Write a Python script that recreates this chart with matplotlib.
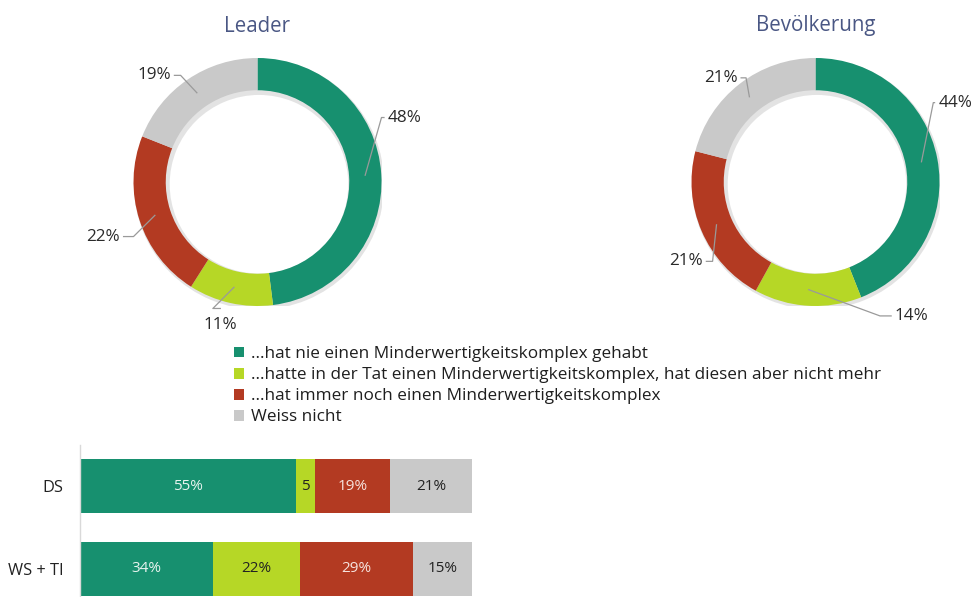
import numpy as np
import matplotlib.pyplot as plt
from matplotlib.patches import Patch, Wedge

plt.rcParams['font.family'] = ['Open Sans', 'DejaVu Sans']

# answer categories and colours
categories = ["...hat nie einen Minderwertigkeitskomplex gehabt",
              "...hatte in der Tat einen Minderwertigkeitskomplex, hat diesen aber nicht mehr",
              "...hat immer noch einen Minderwertigkeitskomplex",
              "Weiss nicht"]
colors = ["#17906f", "#b6d726", "#b33a22", "#c9c9c9"]
text_colors = ["#e8f4ef", "#222222", "#f6e3de", "#222222"]

# donut data
donut_titles = ["Leader", "Bevölkerung"]
leader_vals = [48, 11, 22, 19]
bevoelkerung_vals = [44, 14, 21, 21]

# bar data
bar_groups = ["DS", "WS + TI"]
ds_vals = [55, 5, 19, 21]
ws_vals = [34, 22, 29, 15]
bar_label_fmt = [["{}%", "{}", "{}%", "{}%"], ["{}%", "{}%", "{}%", "{}%"]]

W, H = 973, 597
fig = plt.figure(figsize=(W / 100, H / 100), dpi=100)


def px_axes(cx, cy, r):
    # square axes centred on pixel position (cx, cy) with radius r (pixels)
    return fig.add_axes([(cx - r) / W, (H - cy - r) / H, 2 * r / W, 2 * r / H])


# label positions (in units of donut radius) and text alignment
label_pos = [
    [(1.05, 0.52, 'left'), (-0.30, -1.15, 'center'), (-1.11, -0.44, 'right'), (-0.70, 0.86, 'right')],
    [(0.99, 0.64, 'left'), (0.64, -1.08, 'left'), (-0.91, -0.64, 'right'), (-0.63, 0.84, 'right')],
]
elbow = [
    [(1.0, 0.52), (-0.36, -1.02), (-1.0, -0.44), (-0.62, 0.86)],
    [(0.95, 0.64), (0.52, -1.08), (-0.83, -0.64), (-0.56, 0.84)],
]

for k, (vals, cx) in enumerate([(leader_vals, 257.5), (bevoelkerung_vals, 815.5)]):
    ax = px_axes(cx, 182, 124)
    # soft shadow under the ring
    ax.add_patch(Wedge((0.012, -0.018), 1.01, 0, 360, width=0.29,
                       facecolor="#b0b0b0", alpha=0.35, edgecolor="none"))
    wedges, _ = ax.pie(vals, colors=colors, startangle=90, counterclock=False,
                       radius=1.0, wedgeprops=dict(width=0.26, edgecolor="none"))
    for w, v, (tx, ty, ha), (ex, ey) in zip(wedges, vals, label_pos[k], elbow[k]):
        ang = np.deg2rad((w.theta1 + w.theta2) / 2)
        sx, sy = 0.87 * np.cos(ang), 0.87 * np.sin(ang)
        ax.plot([sx, ex, tx - (0.03 if ha == 'left' else -0.03 if ha == 'right' else 0)],
                [sy, ey, ty if ha != 'center' else ey],
                color="#9a9a9a", lw=0.9, clip_on=False)
        ax.text(tx, ty, f"{v}%", ha=ha, va='center', fontsize=12.3,
                color="#2a2a2a", clip_on=False)
    ax.set_xlim(-1, 1)
    ax.set_ylim(-1, 1)
    ax.set_aspect('equal')
    ax.axis('off')
    fig.text(cx / W, 1 - 26 / H, donut_titles[k], ha='center', va='center',
             fontsize=14.8, color="#4a5784")

# legend
handles = [Patch(facecolor=c, edgecolor='none') for c in colors]
fig.legend(handles, categories, loc='upper left', bbox_to_anchor=(234 / W, 1 - 346 / H),
           frameon=False, fontsize=12.3, handlelength=0.6, handleheight=0.6,
           handletextpad=0.4, labelspacing=0.3, borderpad=0, borderaxespad=0,
           labelcolor="#1e1e1e")

# stacked horizontal bars
bax = fig.add_axes([80 / W, 0, 392 / W, 152 / H])
y = np.arange(len(bar_groups))
for row, vals in enumerate([ds_vals, ws_vals]):
    left = 0
    for i, v in enumerate(vals):
        bax.barh(y[row], v, left=left, height=0.65, color=colors[i], edgecolor='none')
        bax.text(left + v / 2, y[row], bar_label_fmt[row][i].format(v), ha='center',
                 va='center', fontsize=11, color=text_colors[i])
        left += v
bax.set_xlim(0, 100)
bax.set_ylim(1 + 28 / 83, -41 / 83)
bax.set_yticks(y)
bax.set_yticklabels(bar_groups, fontsize=11.8, color="#222222")
bax.tick_params(axis='y', length=0, pad=12)
bax.set_xticks([])
for s in ['top', 'right', 'bottom']:
    bax.spines[s].set_visible(False)
bax.spines['left'].set_color("#d9d9d9")
bax.spines['left'].set_linewidth(1)

fig.savefig("out.png", dpi=100)
